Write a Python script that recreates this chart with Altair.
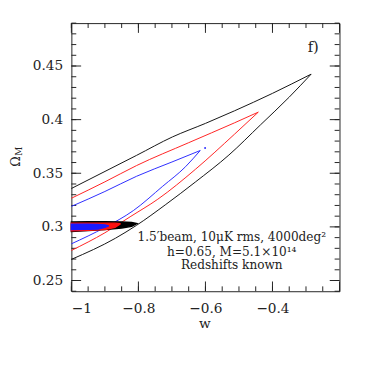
import altair as alt
import pandas as pd

# ---- data ----
black_lower_w = [-1.0, -0.8686, -0.8054, -0.7200, -0.6302, -0.5300, -0.4355, -0.3500, -0.2847]
black_lower_om = [0.2697, 0.2894, 0.3015, 0.3205, 0.3418, 0.3670, 0.3952, 0.4210, 0.4424]
black_upper_w = [-1.0, -0.8054, -0.6983, -0.6000, -0.5134, -0.4000, -0.2847]
black_upper_om = [0.3358, 0.3667, 0.3839, 0.3965, 0.4082, 0.4245, 0.4424]

red_lower_w = [-1.0, -0.9000, -0.8248, -0.7421, -0.6302, -0.5134, -0.4423]
red_lower_om = [0.2780, 0.2945, 0.3094, 0.3258, 0.3536, 0.3864, 0.4070]
red_upper_w = [-1.0, -0.9000, -0.8054, -0.6500, -0.5134, -0.4423]
red_upper_om = [0.3267, 0.3420, 0.3572, 0.3785, 0.3970, 0.4070]

blue_lower_w = [-1.0, -0.9000, -0.8151, -0.7275, -0.6594, -0.6156]
blue_lower_om = [0.2842, 0.2995, 0.3152, 0.3379, 0.3561, 0.3712]
blue_upper_w = [-1.0, -0.9000, -0.8054, -0.7000, -0.6156]
blue_upper_om = [0.3191, 0.3330, 0.3472, 0.3605, 0.3712]

blue_dot_w = [-0.601]
blue_dot_om = [0.3736]

blob_black_w = [-1.0, -0.95, -0.90, -0.85, -0.82, -0.805]
blob_black_top = [0.3045, 0.3047, 0.3048, 0.3045, 0.3040, 0.3030]
blob_black_bot = [0.2958, 0.2965, 0.2975, 0.2990, 0.3005, 0.3030]

blob_red_w = [-1.0, -0.95, -0.90, -0.87, -0.855]
blob_red_top = [0.3035, 0.3035, 0.3035, 0.3035, 0.3030]
blob_red_bot = [0.2965, 0.2968, 0.2975, 0.2995, 0.3025]

blob_blue_w = [-1.0, -0.95, -0.92, -0.90, -0.89]
blob_blue_top = [0.3025, 0.3025, 0.3022, 0.3018, 0.3010]
blob_blue_bot = [0.2975, 0.2977, 0.2980, 0.2995, 0.3008]

x_labels = [-1.0, -0.8, -0.6, -0.4]
y_labels = [0.25, 0.30, 0.35, 0.40, 0.45]
x_major = [-1.0, -0.8, -0.6, -0.4, -0.2]
x_minor = [round(-1.0 + 0.05 * i, 2) for i in range(17)]
y_major = [0.25, 0.30, 0.35, 0.40, 0.45]
y_minor = [round(0.24 + 0.01 * i, 2) for i in range(26)]

notes = ["1.5\u2032beam, 10\u03bcK rms, 4000deg\u00b2", "h=0.65, M=5.1\u00d710\u00b9\u2074", "Redshifts known"]
panel_label = "f)"
x_title = "w"

W = 275
H = 275
FONT = "DejaVu Serif"
INK = "#222222"

xs = alt.Scale(domain=[-1.0, -0.2], nice=False, zero=False)
ys = alt.Scale(domain=[0.24, 0.49], nice=False, zero=False)

XAX = alt.Axis(values=x_labels, format=".1~f", ticks=False, domain=False, grid=False,
               labelFont=FONT, labelFontSize=14, labelColor=INK, labelPadding=11, title=None)
YAX = alt.Axis(values=y_labels, format=".2~f", ticks=False, domain=False, grid=False,
               labelFont=FONT, labelFontSize=14, labelColor=INK, labelPadding=9, title=None)


def X(field):
    return alt.X(field, scale=xs, axis=XAX)


def Y(field):
    return alt.Y(field, scale=ys, axis=YAX)


def contour(lw, lo, uw, uo):
    return pd.DataFrame({
        "w": list(lw) + list(uw),
        "om": list(lo) + list(uo),
        "seg": ["lower"] * len(lw) + ["upper"] * len(uw),
    })


def line_layer(df, color, width=1.0):
    return alt.Chart(df).mark_line(color=color, strokeWidth=width, interpolate="monotone").encode(
        x=X("w:Q"), y=Y("om:Q"), detail="seg:N")


def blob_layer(wv, top, bot, color):
    df = pd.DataFrame({"w": wv, "top": top, "bot": bot})
    return alt.Chart(df).mark_area(color=color, opacity=1, stroke=color, strokeWidth=1.5).encode(
        x=X("w:Q"), y=Y("top:Q"), y2="bot:Q")


layers = []


def xticks(vals, length):
    df = pd.DataFrame({"v": vals})
    b = alt.Chart(df).mark_rule(color=INK, strokeWidth=1).encode(
        x=X("v:Q"), y=alt.value(H), y2=alt.value(H - length))
    t = alt.Chart(df).mark_rule(color=INK, strokeWidth=1).encode(
        x=X("v:Q"), y=alt.value(0), y2=alt.value(length))
    return [b, t]


def yticks(vals, length):
    df = pd.DataFrame({"v": vals})
    l = alt.Chart(df).mark_rule(color=INK, strokeWidth=1).encode(
        y=Y("v:Q"), x=alt.value(0), x2=alt.value(length))
    r = alt.Chart(df).mark_rule(color=INK, strokeWidth=1).encode(
        y=Y("v:Q"), x=alt.value(W), x2=alt.value(W - length))
    return [l, r]


layers += xticks(x_minor, 5) + xticks(x_major, 10) + yticks(y_minor, 5) + yticks(y_major, 10)

layers += [
    line_layer(contour(black_lower_w, black_lower_om, black_upper_w, black_upper_om), "#111111", 1.0),
    line_layer(contour(red_lower_w, red_lower_om, red_upper_w, red_upper_om), "#ff2020", 1.0),
    line_layer(contour(blue_lower_w, blue_lower_om, blue_upper_w, blue_upper_om), "#2a2aff", 1.0),
    alt.Chart(pd.DataFrame({"w": blue_dot_w, "om": blue_dot_om})).mark_point(
        filled=True, color="#2a2aff", size=4, opacity=1).encode(x=X("w:Q"), y=Y("om:Q")),
    blob_layer(blob_black_w, blob_black_top, blob_black_bot, "#000000"),
    blob_layer(blob_red_w, blob_red_top, blob_red_bot, "#ff1010"),
    blob_layer(blob_blue_w, blob_blue_top, blob_blue_bot, "#1a1aff"),
]

for k, yy in zip(range(3), [219.5, 234.5, 248.5]):
    layers.append(
        alt.Chart(pd.DataFrame({"t": [notes[k]]})).mark_text(
            font=FONT, fontSize=12.4, color=INK, align="center", baseline="middle").encode(
            text="t:N", x=alt.value(164.5), y=alt.value(yy)))

layers.append(alt.Chart(pd.DataFrame({"t": [panel_label]})).mark_text(
    font=FONT, fontSize=15, color=INK, align="center", baseline="middle").encode(
    text="t:N", x=alt.value(248), y=alt.value(25)))

layers.append(alt.Chart(pd.DataFrame({"t": [x_title]})).mark_text(
    font=FONT, fontSize=14, color=INK, align="center", baseline="middle").encode(
    text="t:N", x=alt.value(137), y=alt.value(308.5)))

layers.append(alt.Chart(pd.DataFrame({"t": ["\u03a9"]})).mark_text(
    font=FONT, fontSize=13, color=INK, align="center", baseline="middle", angle=270).encode(
    text="t:N", x=alt.value(-56.5), y=alt.value(142)))
layers.append(alt.Chart(pd.DataFrame({"t": ["M"]})).mark_text(
    font=FONT, fontSize=9, color=INK, align="center", baseline="middle", angle=270).encode(
    text="t:N", x=alt.value(-53.5), y=alt.value(131.5)))

chart = alt.layer(*layers).properties(
    width=W, height=H,
    autosize=alt.AutoSizeParams(type="none"),
    padding={"left": 65, "top": 11, "right": 20, "bottom": 65},
).configure_view(stroke=INK, strokeWidth=1)

chart.save("out.html", embed_options={"renderer": "svg", "actions": False})
